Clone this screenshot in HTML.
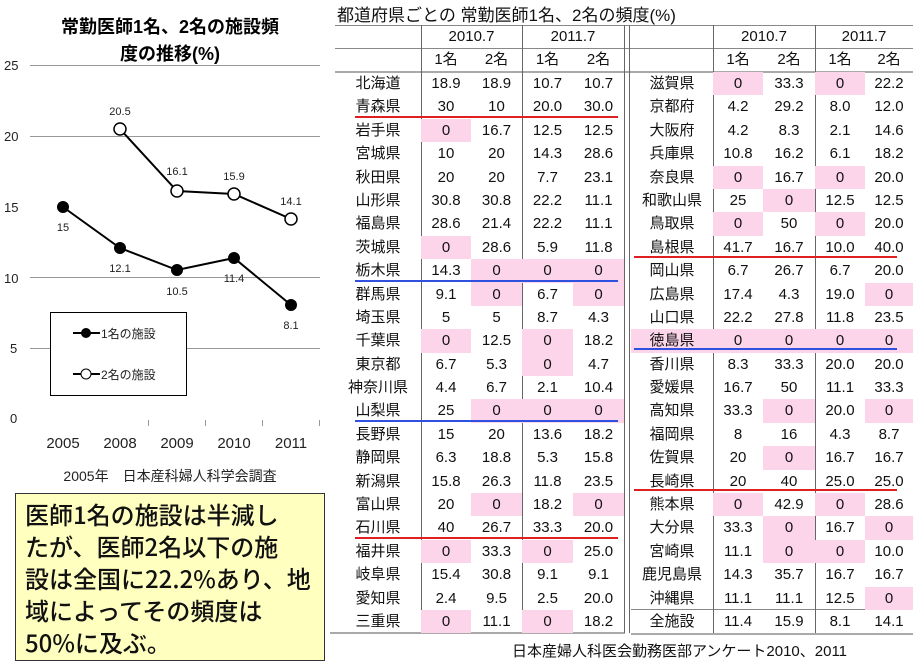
<!DOCTYPE html>
<html><head><meta charset="utf-8"><style>
body{margin:0;width:913px;height:665px;background:#fff;position:relative;overflow:hidden;font-family:"Liberation Sans","Noto Sans CJK JP",sans-serif;color:#111}
.t{position:absolute}
.r{display:flex;height:23.4px;line-height:23.4px;font-size:15px;text-align:center}
.r span{display:block;box-sizing:border-box}
.L span:nth-child(1){width:86px}.L span:nth-child(2){width:50px}.L span:nth-child(3){width:51px}.L span:nth-child(4){width:51px}.L span:nth-child(5){width:51px}
.R span:nth-child(1){width:82px}.R span:nth-child(2){width:50px}.R span:nth-child(3){width:52px}.R span:nth-child(4){width:50px}.R span:nth-child(5){width:48px}
.p{background:#fdd5ea}
.v{position:absolute;width:1px;background:#666}
.h{position:absolute;height:1px;background:#888}
</style></head><body>
<svg class="t" style="left:0;top:0" width="330" height="490">
<text x="170" y="33" font-size="18" font-weight="bold" text-anchor="middle" font-family="Liberation Sans,Noto Sans CJK JP,sans-serif">常勤医師1名、2名の施設頻</text>
<text x="170" y="60" font-size="18" font-weight="bold" text-anchor="middle" font-family="Liberation Sans,Noto Sans CJK JP,sans-serif">度の推移(%)</text>
<g stroke="#999" stroke-width="1">
<line x1="30" y1="65.5" x2="320" y2="65.5"/><line x1="30" y1="136.5" x2="320" y2="136.5"/><line x1="30" y1="277.5" x2="320" y2="277.5"/><line x1="30" y1="348.5" x2="320" y2="348.5"/>
<line x1="148.5" y1="420" x2="148.5" y2="426"/><line x1="205.5" y1="420" x2="205.5" y2="426"/><line x1="262.5" y1="420" x2="262.5" y2="426"/><line x1="319.5" y1="420" x2="319.5" y2="426"/>
</g>
<g font-size="13" fill="#222" font-family="Liberation Sans,sans-serif">
<text x="4" y="70">25</text><text x="4" y="141">20</text><text x="4" y="212">15</text><text x="4" y="283">10</text><text x="10" y="353">5</text><text x="10" y="423">0</text>
</g>
<g font-size="15" fill="#222" text-anchor="middle" font-family="Liberation Sans,sans-serif">
<text x="63" y="448">2005</text><text x="120" y="448">2008</text><text x="177" y="448">2009</text><text x="234" y="448">2010</text><text x="291" y="448">2011</text>
</g>
<polyline points="120,129 177,191 234,194 291,219" fill="none" stroke="#000" stroke-width="2"/>
<polyline points="63,207 120,248 177,270 234,258 291,305" fill="none" stroke="#000" stroke-width="2"/>
<g fill="#fff" stroke="#000" stroke-width="1.5"><circle cx="120" cy="129" r="6"/><circle cx="177" cy="191" r="6"/><circle cx="234" cy="194" r="6"/><circle cx="291" cy="219" r="6"/></g>
<g fill="#000"><circle cx="63" cy="207" r="6"/><circle cx="120" cy="248" r="6"/><circle cx="177" cy="270" r="6"/><circle cx="234" cy="258" r="6"/><circle cx="291" cy="305" r="6"/></g>
<g font-size="11" fill="#222" text-anchor="middle" font-family="Liberation Sans,sans-serif">
<text x="120" y="115">20.5</text><text x="177" y="175">16.1</text><text x="234" y="180">15.9</text><text x="291" y="205">14.1</text>
<text x="63" y="231">15</text><text x="120" y="272">12.1</text><text x="177" y="295">10.5</text><text x="234" y="282">11.4</text><text x="291" y="329">8.1</text>
</g>
<rect x="50.5" y="312.5" width="136" height="83" fill="#fff" stroke="#000"/>
<line x1="73" y1="333" x2="100" y2="333" stroke="#000" stroke-width="2"/><circle cx="86" cy="333" r="5" fill="#000"/>
<line x1="73" y1="374" x2="100" y2="374" stroke="#000" stroke-width="2"/><circle cx="86" cy="374" r="5" fill="#fff" stroke="#000"/>
<g font-size="12" fill="#222" font-family="Liberation Sans,Noto Sans CJK JP,sans-serif"><text x="101" y="338">1名の施設</text><text x="101" y="379">2名の施設</text></g>
<text x="170" y="481" font-size="14" text-anchor="middle" fill="#222" font-family="Liberation Sans,Noto Sans CJK JP,sans-serif">2005年　日本産科婦人科学会調査</text>
</svg>
<div class="t" style="left:15px;top:493px;width:310px;height:168px;background:#ffffc0;border:1px solid #333;font-size:24px;line-height:32px;padding:4px 0 0 9px;box-sizing:border-box;white-space:nowrap;font-weight:500;font-family:'Noto Sans CJK JP','Liberation Sans',sans-serif">医師1名の施設は半減し<br>たが、医師2名以下の施<br>設は全国に22.2%あり、地<br>域によってその頻度は<br>50%に及ぶ。</div>

<div class="t" style="left:337px;top:1px;font-size:17px">都道府県ごとの 常勤医師1名、2名の頻度(%)</div>
<div class="h" style="left:335px;top:25px;width:578px"></div>
<div class="h" style="left:335px;top:48px;width:578px"></div>
<div class="h" style="left:335px;top:71px;width:578px;height:2px;background:#aaa"></div>
<div class="h" style="left:330px;top:632px;width:295px;height:2px;background:#aaa"></div>
<div class="h" style="left:631px;top:609px;width:282px"></div>
<div class="h" style="left:631px;top:633px;width:282px;height:2px;background:#aaa"></div>
<div class="v" style="left:421px;top:25px;height:608px"></div>
<div class="v" style="left:522px;top:25px;height:608px"></div>
<div class="v" style="left:624px;top:25px;height:608px"></div>
<div class="v" style="left:629px;top:25px;height:608px"></div>
<div class="v" style="left:713px;top:25px;height:608px"></div>
<div class="v" style="left:815px;top:25px;height:608px"></div>

<div class="t" style="left:335px;top:25px">
<div class="r L" style="height:23px"><span></span><span style="width:101px">2010.7</span><span style="width:102px">2011.7</span></div>
<div class="r L" style="height:23px"><span></span><span>1名</span><span>2名</span><span>1名</span><span>2名</span></div>
</div>
<div class="t" style="left:631px;top:25px">
<div class="r R" style="height:23px"><span></span><span style="width:102px">2010.7</span><span style="width:98px">2011.7</span></div>
<div class="r R" style="height:23px"><span></span><span>1名</span><span>2名</span><span>1名</span><span>2名</span></div>
</div>

<div class="t" style="left:335px;top:72px">
<div class="r L"><span>北海道</span><span>18.9</span><span>18.9</span><span>10.7</span><span>10.7</span></div>
<div class="r L"><span>青森県</span><span>30</span><span>10</span><span>20.0</span><span>30.0</span></div>
<div class="r L"><span>岩手県</span><span class="p">0</span><span>16.7</span><span>12.5</span><span>12.5</span></div>
<div class="r L"><span>宮城県</span><span>10</span><span>20</span><span>14.3</span><span>28.6</span></div>
<div class="r L"><span>秋田県</span><span>20</span><span>20</span><span>7.7</span><span>23.1</span></div>
<div class="r L"><span>山形県</span><span>30.8</span><span>30.8</span><span>22.2</span><span>11.1</span></div>
<div class="r L"><span>福島県</span><span>28.6</span><span>21.4</span><span>22.2</span><span>11.1</span></div>
<div class="r L"><span>茨城県</span><span class="p">0</span><span>28.6</span><span>5.9</span><span>11.8</span></div>
<div class="r L"><span>栃木県</span><span>14.3</span><span class="p">0</span><span class="p">0</span><span class="p">0</span></div>
<div class="r L"><span>群馬県</span><span>9.1</span><span class="p">0</span><span>6.7</span><span class="p">0</span></div>
<div class="r L"><span>埼玉県</span><span>5</span><span>5</span><span>8.7</span><span>4.3</span></div>
<div class="r L"><span>千葉県</span><span class="p">0</span><span>12.5</span><span class="p">0</span><span>18.2</span></div>
<div class="r L"><span>東京都</span><span>6.7</span><span>5.3</span><span class="p">0</span><span>4.7</span></div>
<div class="r L"><span>神奈川県</span><span>4.4</span><span>6.7</span><span>2.1</span><span>10.4</span></div>
<div class="r L"><span>山梨県</span><span>25</span><span class="p">0</span><span class="p">0</span><span class="p">0</span></div>
<div class="r L"><span>長野県</span><span>15</span><span>20</span><span>13.6</span><span>18.2</span></div>
<div class="r L"><span>静岡県</span><span>6.3</span><span>18.8</span><span>5.3</span><span>15.8</span></div>
<div class="r L"><span>新潟県</span><span>15.8</span><span>26.3</span><span>11.8</span><span>23.5</span></div>
<div class="r L"><span>富山県</span><span>20</span><span class="p">0</span><span>18.2</span><span class="p">0</span></div>
<div class="r L"><span>石川県</span><span>40</span><span>26.7</span><span>33.3</span><span>20.0</span></div>
<div class="r L"><span>福井県</span><span class="p">0</span><span>33.3</span><span class="p">0</span><span>25.0</span></div>
<div class="r L"><span>岐阜県</span><span>15.4</span><span>30.8</span><span>9.1</span><span>9.1</span></div>
<div class="r L"><span>愛知県</span><span>2.4</span><span>9.5</span><span>2.5</span><span>20.0</span></div>
<div class="r L"><span>三重県</span><span class="p">0</span><span>11.1</span><span class="p">0</span><span>18.2</span></div>
</div>

<div class="t" style="left:631px;top:72px">
<div class="r R"><span>滋賀県</span><span class="p">0</span><span>33.3</span><span class="p">0</span><span>22.2</span></div>
<div class="r R"><span>京都府</span><span>4.2</span><span>29.2</span><span>8.0</span><span>12.0</span></div>
<div class="r R"><span>大阪府</span><span>4.2</span><span>8.3</span><span>2.1</span><span>14.6</span></div>
<div class="r R"><span>兵庫県</span><span>10.8</span><span>16.2</span><span>6.1</span><span>18.2</span></div>
<div class="r R"><span>奈良県</span><span class="p">0</span><span>16.7</span><span class="p">0</span><span>20.0</span></div>
<div class="r R"><span>和歌山県</span><span>25</span><span class="p">0</span><span>12.5</span><span>12.5</span></div>
<div class="r R"><span>鳥取県</span><span class="p">0</span><span>50</span><span class="p">0</span><span>20.0</span></div>
<div class="r R"><span>島根県</span><span>41.7</span><span>16.7</span><span>10.0</span><span>40.0</span></div>
<div class="r R"><span>岡山県</span><span>6.7</span><span>26.7</span><span>6.7</span><span>20.0</span></div>
<div class="r R"><span>広島県</span><span>17.4</span><span>4.3</span><span>19.0</span><span class="p">0</span></div>
<div class="r R"><span>山口県</span><span>22.2</span><span>27.8</span><span>11.8</span><span>23.5</span></div>
<div class="r R"><span class="p">徳島県</span><span class="p">0</span><span class="p">0</span><span class="p">0</span><span class="p">0</span></div>
<div class="r R"><span>香川県</span><span>8.3</span><span>33.3</span><span>20.0</span><span>20.0</span></div>
<div class="r R"><span>愛媛県</span><span>16.7</span><span>50</span><span>11.1</span><span>33.3</span></div>
<div class="r R"><span>高知県</span><span>33.3</span><span class="p">0</span><span>20.0</span><span class="p">0</span></div>
<div class="r R"><span>福岡県</span><span>8</span><span>16</span><span>4.3</span><span>8.7</span></div>
<div class="r R"><span>佐賀県</span><span>20</span><span class="p">0</span><span>16.7</span><span>16.7</span></div>
<div class="r R"><span>長崎県</span><span>20</span><span>40</span><span>25.0</span><span>25.0</span></div>
<div class="r R"><span>熊本県</span><span class="p">0</span><span>42.9</span><span class="p">0</span><span>28.6</span></div>
<div class="r R"><span>大分県</span><span>33.3</span><span class="p">0</span><span>16.7</span><span class="p">0</span></div>
<div class="r R"><span>宮崎県</span><span>11.1</span><span class="p">0</span><span class="p">0</span><span>10.0</span></div>
<div class="r R"><span>鹿児島県</span><span>14.3</span><span>35.7</span><span>16.7</span><span>16.7</span></div>
<div class="r R"><span>沖縄県</span><span>11.1</span><span>11.1</span><span>12.5</span><span class="p">0</span></div>
<div class="r R"><span>全施設</span><span>11.4</span><span>15.9</span><span>8.1</span><span>14.1</span></div>
</div>

<div class="h" style="left:355px;top:116px;width:263px;height:2px;background:#e02020"></div>
<div class="h" style="left:355px;top:537px;width:263px;height:2px;background:#e02020"></div>
<div class="h" style="left:355px;top:280px;width:263px;height:2px;background:#3050e0"></div>
<div class="h" style="left:355px;top:420px;width:263px;height:2px;background:#3050e0"></div>
<div class="h" style="left:634px;top:256px;width:263px;height:2px;background:#e02020"></div>
<div class="h" style="left:634px;top:348px;width:263px;height:2px;background:#3050e0"></div>
<div class="h" style="left:634px;top:489px;width:263px;height:2px;background:#e02020"></div>

<div class="t" style="left:512px;top:640px;font-size:15px">日本産婦人科医会勤務医部アンケート2010、2011</div>
</body></html>
